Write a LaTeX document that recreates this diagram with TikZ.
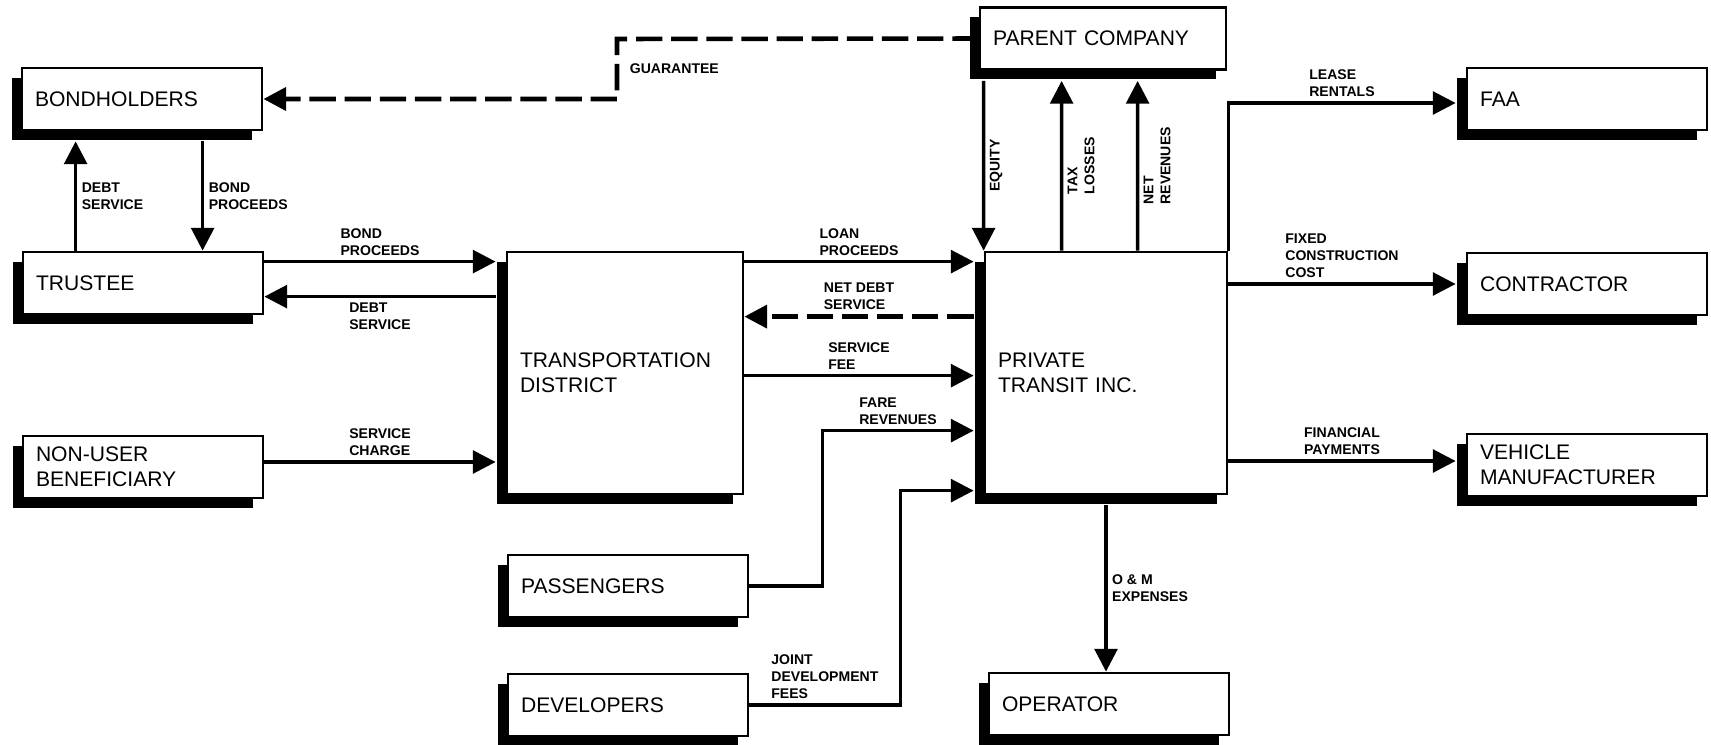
\documentclass[tikz,border=0pt]{standalone}
\usepackage{fontspec}
\setmainfont{Liberation Sans}
\usetikzlibrary{arrows.meta, calc, shadows}

\begin{document}
\begin{tikzpicture}[x=0.02cm, y=-0.02cm, >={Triangle[length=13pt, width=13pt]}, line width=2pt]
\tikzset{
    blk/.style={draw, rectangle, line width=1.6pt, fill=white, inner xsep=0.26cm, inner ysep=0pt, text width=4.28cm, minimum height=1.24cm, align=left, font=\fontsize{12}{14}\selectfont, general shadow={fill=black, shadow xshift=-5.5pt, shadow yshift=-5.5pt}},
    bigblk/.style={blk, minimum height=4.84cm},
    lbl/.style={font=\bfseries\fontsize{8}{9.6}\selectfont, align=left, inner sep=2.5pt},
    flow/.style={->},
    dflow/.style={->, dash pattern=on 15pt off 5pt, line width=2.6pt}
}
\useasboundingbox (0,0) rectangle (1711,744);
% boxes
\node[blk] (bond) at (142,99) {BONDHOLDERS};
\node[blk] (trustee) at (143,283) {TRUSTEE};
\node[blk] (nonuser) at (143,467) {NON-USER\\BENEFICIARY};
\node[bigblk, text width=4.2cm] (tdist) at (625,373) {TRANSPORTATION\\DISTRICT};
\node[blk] (pass) at (628,586) {PASSENGERS};
\node[blk] (devel) at (628,705) {DEVELOPERS};
\node[blk, text width=4.40cm] (parent) at (1103,38.5) {PARENT COMPANY};
\node[bigblk, text width=4.32cm] (pti) at (1106,373) {PRIVATE\\TRANSIT INC.};
\node[blk] (oper) at (1109,704) {OPERATOR};
\node[blk] (faa) at (1587,99) {FAA};
\node[blk] (contr) at (1587,284) {CONTRACTOR};
\node[blk] (vehic) at (1587,465) {VEHICLE\\MANUFACTURER};
% left side
\coordinate (gcorner) at (617,39);
\draw[dflow] (parent.west) -- (gcorner) |- (bond.east) node[lbl, pos=0.25, right, inner xsep=6pt] {GUARANTEE};
\draw[flow] ($(trustee.north west)+(54,0)$) -- ($(bond.south west)+(55,10)$) node[lbl, midway, right] {DEBT\\SERVICE};
\draw[flow] ($(bond.south west)+(182,10)$) -- ($(trustee.north west)+(181,0)$) node[lbl, midway, right] {BOND\\PROCEEDS};
\draw[flow] ($(trustee.north east)+(0,11)$) -- ($(tdist.west |- trustee.north east)+(-10,11)$) node[lbl, midway, above] {BOND\\PROCEEDS};
\draw[flow] ($(tdist.north west)+(-10,46)$) -- ($(trustee.east |- tdist.north west)+(0,46)$) node[lbl, midway, below] {DEBT\\SERVICE};
\draw[flow] ($(nonuser.east)+(0,-5)$) -- ($(tdist.west |- nonuser.east)+(-10,-5)$) node[lbl, midway, above] {SERVICE\\CHARGE};
% into private transit
\draw[flow] ($(tdist.north east)+(0,11)$) -- ($(pti.north west)+(-10,11)$) node[lbl, midway, above] {LOAN\\PROCEEDS};
\draw[dflow] ($(pti.north west)+(-10,66)$) -- ($(tdist.north east)+(0,66)$) node[lbl, midway, above] {NET DEBT\\SERVICE};
\draw[flow] ($(tdist.north east)+(0,125)$) -- ($(pti.north west)+(-10,125)$) node[lbl, midway, above] {SERVICE\\FEE};
\draw[flow] (pass.east) -- ++(73,0) |- ($(pti.north west)+(-10,180)$) node[lbl, pos=0.75, above] {FARE\\REVENUES};
\draw[flow] (devel.east) -- ++(151,0) node[lbl, midway, above] {JOINT\\DEVELOPMENT\\FEES} |- ($(pti.north west)+(-10,240)$);
% parent company
\draw[flow] ($(parent.south west)+(5,10)$) -- (pti.north west) node[lbl, midway, rotate=90, anchor=north] {EQUITY};
\draw[flow] ($(pti.north west)+(78,0)$) -- ($(parent.south west)+(83,10)$) node[lbl, midway, rotate=90, anchor=north] {TAX\\LOSSES};
\draw[flow] ($(pti.north west)+(154,0)$) -- ($(parent.south west)+(159,10)$) node[lbl, midway, rotate=90, anchor=north] {NET\\REVENUES};
% right side
\draw[flow] (pti.north east) |- ($(faa.west)+(-10,4)$) node[lbl, pos=0.75, above] {LEASE\\RENTALS};
\draw[flow] (pti.east |- contr.west) -- ($(contr.west)+(-10,0)$) node[lbl, midway, above] {FIXED\\CONSTRUCTION\\COST};
\draw[flow] ($(pti.east |- vehic.west)+(0,-4)$) -- ($(vehic.west)+(-10,-4)$) node[lbl, midway, above] {FINANCIAL\\PAYMENTS};
\draw[flow] ($(pti.south)+(0,10)$) -- (pti.south |- oper.north) node[lbl, midway, right] {O \& M\\EXPENSES};
\end{tikzpicture}
\end{document}
